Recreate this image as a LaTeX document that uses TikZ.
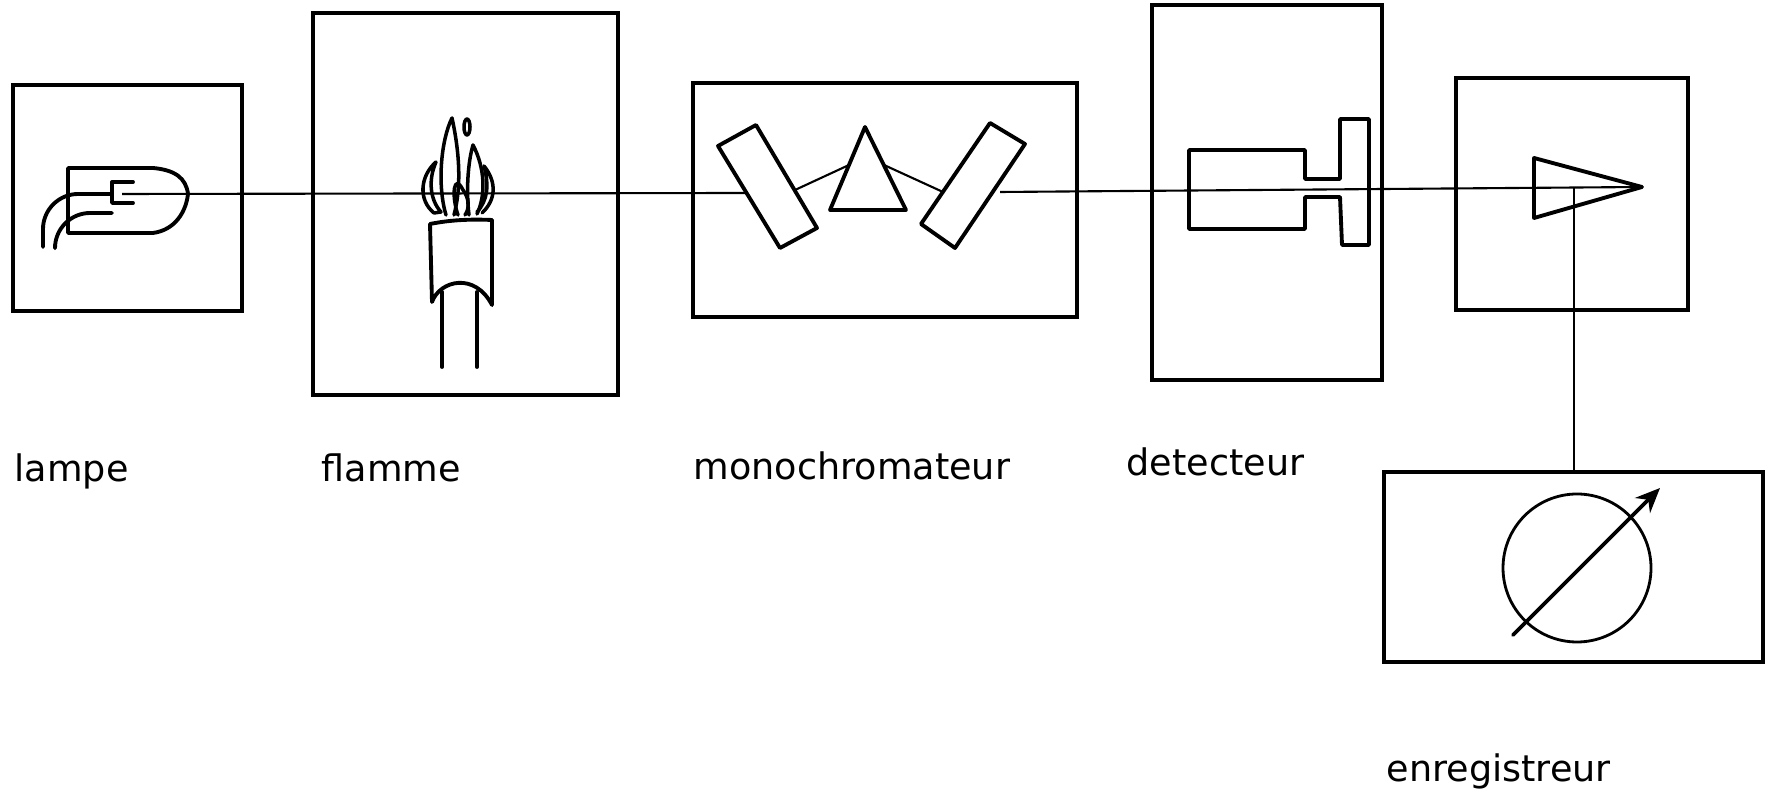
\documentclass[tikz,border=0pt]{standalone}
\usepackage{fontspec}
\setmainfont{DejaVu Sans}
\usetikzlibrary{arrows.meta}

\tikzset{
  bloc/.style={draw, rectangle, line width=1pt, inner sep=0pt, outer sep=0pt},
  piece/.style={line width=1.1pt, line join=round, line cap=round},
  rayon/.style={line width=0.6pt},
  legende/.style={anchor=base west, inner sep=0pt, font=\fontsize{10.4}{12}\selectfont}
}

\begin{document}
\begin{tikzpicture}[x=0.1mm, y=-0.1mm]
  \useasboundingbox (0,0) rectangle (1765,797);

  % les blocs
  \node[bloc, minimum width=22.9mm, minimum height=22.6mm] (lampe) at (127.5,198) {};
  \node[bloc, minimum width=30.5mm, minimum height=38.2mm] (flamme) at (465.5,204) {};
  \node[bloc, minimum width=38.4mm, minimum height=23.4mm] (mono) at (885,200) {};
  \node[bloc, minimum width=23.0mm, minimum height=37.5mm] (det) at (1267,192.5) {};
  \node[bloc, minimum width=23.2mm, minimum height=23.2mm] (ampli) at (1572,194) {};
  \node[bloc, minimum width=37.9mm, minimum height=19.0mm] (enreg) at (1573.5,567) {};

  % lampe a cathode creuse
  \draw[piece] (153,168) -- (68,168) -- (68,233) -- (153,233)
    .. controls (175,230) and (186,212) .. (188,194)
    .. controls (186,178) and (175,170) .. (153,168);
  \draw[piece] (133,182) -- (112,182) -- (112,203) -- (133,203);
  \draw[piece, rounded corners=10pt] (112,194) -- (43,194) -- (43,247);
  \draw[piece, rounded corners=10pt] (112,213) -- (55,213) -- (55,248);
  \coordinate (cath) at (122,194);

  % bruleur
  \draw[piece] (430,224) .. controls (450,220) and (470,219) .. (492,220);
  \draw[piece] (430,224) -- (432,302) .. controls (440,280) and (475,272) .. (492,305) -- (492,220);
  \draw[piece] (442,292) -- (442,367);
  \draw[piece] (477,292) -- (477,367);
  % la flamme
  \draw[piece, line width=1pt] (434,213) .. controls (418,200) and (420,176) .. (436,162)
    .. controls (428,180) and (430,200) .. (441,212) -- cycle;
  \draw[piece, line width=1pt] (446,215) .. controls (437,185) and (441,140) .. (452,118)
    .. controls (459,150) and (462,185) .. (454,215);
  \draw[piece, line width=1pt] (458,215) .. controls (451,195) and (454,172) .. (463,190)
    .. controls (469,198) and (470,208) .. (465,215);
  \draw[piece, line width=1pt] (467,127) ellipse [x radius=3, y radius=8];
  \draw[piece, line width=1pt] (469,215) .. controls (466,190) and (468,162) .. (473,145)
    .. controls (485,168) and (486,195) .. (477,214);
  \draw[piece, line width=1pt] (482,213) .. controls (496,200) and (497,182) .. (484,166)
    .. controls (489,185) and (488,200) .. (477,212);

  % monochromateur : deux miroirs et le prisme
  \draw[piece] (718,146) -- (756,125) -- (817,228) -- (780,248) -- cycle;
  \draw[piece] (865,127) -- (830,210) -- (906,210) -- cycle;
  \draw[piece] (990,123) -- (1025,144) -- (955,248) -- (921,224) -- cycle;
  \coordinate (mirA) at (747,193);
  \coordinate (mirB) at (795,190);
  \coordinate (priA) at (849,165);
  \coordinate (priB) at (884,165);
  \coordinate (mirC) at (943,192);
  \coordinate (mirD) at (1000,192);

  % detecteur
  \draw[piece] (1189,150) -- (1305,150) -- (1305,179) -- (1340,179) -- (1340,119)
    -- (1369,119) -- (1369,245) -- (1342,245) -- (1340,197) -- (1305,197)
    -- (1305,229) -- (1189,229) -- cycle;

  % amplificateur
  \draw[piece] (1534,158) -- (1642,187) -- (1534,218) -- cycle;
  \coordinate (tip) at (1642,187);
  \coordinate (sortie) at (1574,188);

  % enregistreur
  \draw[line width=0.8pt] (1577,568) circle [radius=74];
  \draw[piece, -{Stealth[length=7pt, width=6pt]}] (1513,635) -- (1660,488);

  % faisceau
  \draw[rayon] (cath) -- (mirA);
  \draw[rayon] (mirB) -- (priA);
  \draw[rayon] (priB) -- (mirC);
  \draw[rayon] (mirD) -- (tip);
  \draw[rayon] (sortie) -- (sortie |- enreg.north);

  % legendes
  \node[legende] (tlampe) at (14,482) {lampe};
  \node[legende] (tflamme) at (321,482) {flamme};
  \node[legende] (tmono) at (693,480) {monochromateur};
  \node[legende] (tdet) at (1126,476) {detecteur};
  \node[legende] (tenreg) at (1386,782) {enregistreur};
\end{tikzpicture}
\end{document}
